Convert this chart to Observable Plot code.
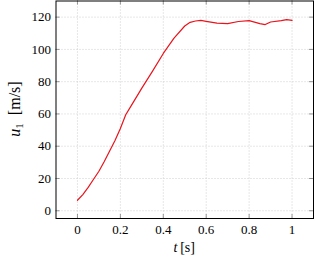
<!DOCTYPE html>
<html><head><meta charset="utf-8">
<script src="https://cdn.jsdelivr.net/npm/d3@7"></script>
<script src="https://cdn.jsdelivr.net/npm/@observablehq/plot@0.6"></script>
<style>body{margin:0;background:#fff;} svg{display:block;} svg text{font-family:"Liberation Serif","Times New Roman","DejaVu Serif",serif !important;}</style>
</head><body><div id="chart"></div>
<script>
const times = [0,0.025,0.05,0.075,0.1,0.125,0.15,0.175,0.2,0.225,0.25,0.3,0.35,0.4,0.45,0.5,0.525,0.55,0.575,0.6,0.65,0.7,0.75,0.8,0.85,0.875,0.9,0.95,0.975,1.0];
const speeds = [6.5,10,14.5,19.5,24.5,30.5,37,43.5,51,59.5,65,76,86.5,97.5,107,114.5,116.8,117.6,118,117.4,116.3,116,117.3,117.8,116,115.4,117,117.8,118.5,118];
const xTicks = [0,0.2,0.4,0.6,0.8,1];
const xTickLabels = ["0","0.2","0.4","0.6","0.8","1"];
const yTicks = [0,20,40,60,80,100,120];
const xLabel = "t";
const xUnit = "[s]";
const yLabel = "u";
const ySub = "1";
const yUnit = "[m/s]";

const data = times.map((t,i)=>({t, u: speeds[i]}));
const W = 315, H = 260;
const mL = 55.5, mR = 2, mT = 0.5, mB = 42;
const innerW = W - mL - mR, innerH = H - mT - mB;
const tl = 4;

const plot = Plot.plot({
  width: W, height: H,
  marginLeft: mL, marginRight: mR, marginTop: mT, marginBottom: mB,
  style: {fontSize: "13px", color: "#000", background: "#fff"},
  x: {domain: [-0.1, 1.1], ticks: xTicks, label: null},
  y: {domain: [-4.8, 130], ticks: yTicks, label: null},
  marks: [
    Plot.ruleX(xTicks, {stroke: "#cfcfcf", strokeDasharray: "1,2"}),
    Plot.ruleY(yTicks, {stroke: "#cfcfcf", strokeDasharray: "1,2"}),
    Plot.ruleX(xTicks, {stroke: "#555", strokeWidth: 0.6, insetTop: innerH - tl}),
    Plot.ruleX(xTicks, {stroke: "#555", strokeWidth: 0.6, insetBottom: innerH - tl}),
    Plot.ruleY(yTicks, {stroke: "#555", strokeWidth: 0.6, insetRight: innerW - tl}),
    Plot.ruleY(yTicks, {stroke: "#555", strokeWidth: 0.6, insetLeft: innerW - tl}),
    Plot.axisX(xTicks, {tickSize: 0, tickPadding: 6, tickFormat: (d,i)=>xTickLabels[i], fontSize: 13}),
    Plot.axisY(yTicks, {tickSize: 0, tickPadding: 5, fontSize: 13}),
    Plot.line(data, {x: "t", y: "u", stroke: "#e8141c", strokeWidth: 1.2}),
    Plot.frame({stroke: "#000", strokeWidth: 1})
  ]
});
document.getElementById("chart").appendChild(plot);

const svg = d3.select(plot);
const xl = svg.append("text").attr("x", mL + innerW/2).attr("y", 252)
  .attr("text-anchor", "middle").attr("font-size", 14).attr("fill", "#000");
xl.append("tspan").attr("font-style", "italic").text(xLabel);
xl.append("tspan").text("\u2009" + xUnit);

const yl = svg.append("text").attr("transform", `translate(20,109) rotate(-90)`)
  .attr("text-anchor", "middle").attr("font-size", 16).attr("fill", "#000");
yl.append("tspan").attr("font-style", "italic").text(yLabel);
yl.append("tspan").attr("font-size", 11).attr("dy", 3).text(ySub);
yl.append("tspan").attr("dy", -3).text("\u2002" + yUnit);
</script>
</body></html>
